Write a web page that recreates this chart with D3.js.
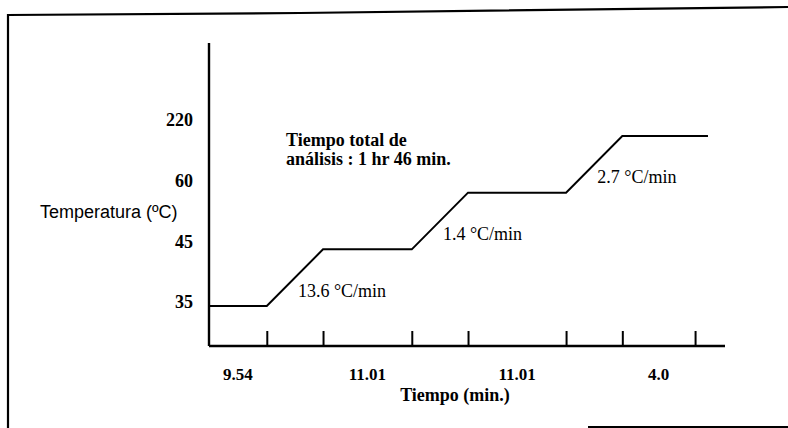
<!DOCTYPE html>
<html>
<head>
<meta charset="utf-8">
<script src="https://cdn.jsdelivr.net/npm/d3@7"></script>
<style>
  html, body { margin: 0; padding: 0; background: #fff; }
  svg { display: block; }
</style>
</head>
<body>
<svg id="chart" width="788" height="428"></svg>
<script>
// ---- data (schematic temperature program) ----
const yLevels = ["35", "45", "60", "220"];                 // y tick labels (°C)
const profileTime = [0, 11.2, 22.1, 39.3, 50.2, 69.2, 80.1, 96.7];  // schematic time units
const profileTemp = ["35", "35", "45", "45", "60", "60", "220", "220"];
const tickTimes = [11.2, 22.1, 39.3, 50.2, 69.2, 80.1, 94.2];
const holdStart = [0, 22.1, 50.2, 80.1];
const holdEnd = [11.2, 39.3, 69.2, 94.2];
const holdLabels = ["9.54", "11.01", "11.01", "4.0"];
const rampStart = [11.2, 39.3, 69.2];
const rampEnd = [22.1, 50.2, 80.1];
const rampFrom = ["35", "45", "60"];
const rampTo = ["45", "60", "220"];
const rateLabels = ["13.6 \u00B0C/min", "1.4 \u00B0C/min", "2.7 \u00B0C/min"];
const noteLines = ["Tiempo total de", "an\u00E1lisis : 1 hr 46 min."];
const yTitle = "Temperatura (\u00BAC)";
const xTitle = "Tiempo (min.)";

// ---- layout ----
const svg = d3.select("#chart");
const axisY = 346;
const x = d3.scaleLinear().domain([0, 100]).range([209, 725]);
const yLine = d3.scalePoint().domain(yLevels).range([306, 136]);
const yLab = d3.scalePoint().domain(yLevels).range([302, 120]);

// frame (scanned page border)
svg.append("path")
  .attr("d", "M8,428 L8,15 L300,13 L788,7")
  .attr("fill", "none").attr("stroke", "#000").attr("stroke-width", 2.2);
svg.append("line")
  .attr("x1", 588).attr("x2", 788).attr("y1", 427).attr("y2", 427)
  .attr("stroke", "#000").attr("stroke-width", 2);

// y axis line + labels
svg.append("line")
  .attr("x1", x(0)).attr("x2", x(0)).attr("y1", 43).attr("y2", axisY)
  .attr("stroke", "#000").attr("stroke-width", 2.4);
const yAx = svg.append("g")
  .attr("transform", `translate(${x(0)},0)`)
  .call(d3.axisLeft(yLab).tickSize(0).tickPadding(16));
yAx.select(".domain").remove();
yAx.selectAll("text")
  .attr("font-family", "'Liberation Serif', serif")
  .attr("font-weight", "bold").attr("font-size", 18).attr("fill", "#000");

// x axis with inward ticks at program breakpoints
const xAx = svg.append("g")
  .attr("transform", `translate(0,${axisY})`)
  .call(d3.axisBottom(x).tickValues(tickTimes).tickSize(-15).tickFormat(""));
xAx.select(".domain").attr("stroke-width", 2.4).attr("d", `M${x(0)},0H${x(100)}`);
xAx.selectAll(".tick line").attr("stroke-width", 2);

// hold duration labels
svg.append("g").selectAll("text")
  .data(holdLabels)
  .join("text")
  .attr("x", (d, i) => x((holdStart[i] + holdEnd[i]) / 2))
  .attr("y", 380)
  .attr("text-anchor", "middle")
  .attr("font-family", "'Liberation Serif', serif")
  .attr("font-weight", "bold").attr("font-size", 17)
  .text(d => d);

// profile line
const line = d3.line()
  .x(d => x(d[0]))
  .y(d => yLine(d[1]));
svg.append("path")
  .datum(profileTime.map((t, i) => [t, profileTemp[i]]))
  .attr("d", line)
  .attr("fill", "none").attr("stroke", "#000").attr("stroke-width", 2);

// ramp rate labels
svg.append("g").selectAll("text")
  .data(rateLabels)
  .join("text")
  .attr("x", (d, i) => x((rampStart[i] + rampEnd[i]) / 2) + 3)
  .attr("y", (d, i) => (yLine(rampFrom[i]) + yLine(rampTo[i])) / 2 + 19)
  .attr("font-family", "'Liberation Serif', serif")
  .attr("font-size", 18)
  .text(d => d);

// note
svg.append("g").selectAll("text")
  .data(noteLines)
  .join("text")
  .attr("x", 286)
  .attr("y", (d, i) => 146 + i * 19)
  .attr("font-family", "'Liberation Serif', serif")
  .attr("font-weight", "bold").attr("font-size", 18)
  .text(d => d);

// axis titles
svg.append("text")
  .attr("x", 40).attr("y", 218)
  .attr("font-family", "'Liberation Sans', Arial, sans-serif")
  .attr("font-size", 18)
  .text(yTitle);
svg.append("text")
  .attr("x", 455).attr("y", 401)
  .attr("text-anchor", "middle")
  .attr("font-family", "'Liberation Serif', serif")
  .attr("font-weight", "bold").attr("font-size", 18)
  .text(xTitle);
</script>
</body>
</html>
